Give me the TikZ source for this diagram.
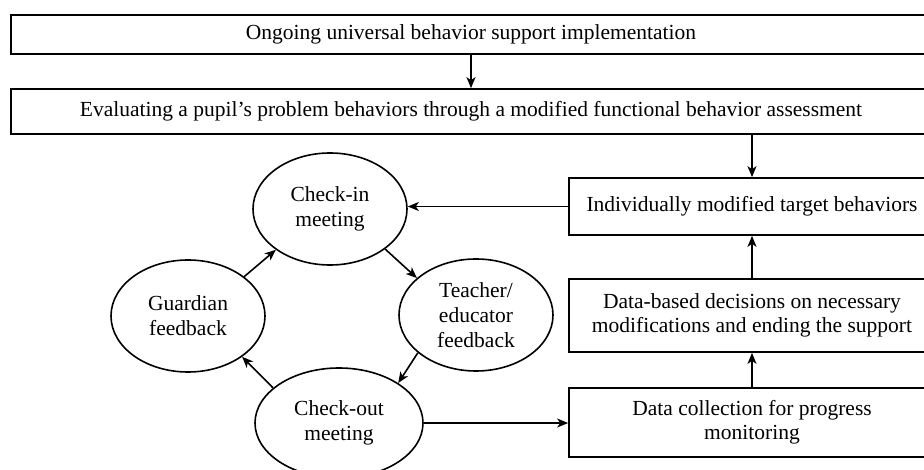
\documentclass[tikz,border=0pt]{standalone}
\usepackage{fontspec}
\setmainfont{Liberation Serif}
\usetikzlibrary{arrows.meta,shapes.geometric}
\begin{document}
\begin{tikzpicture}[x=1pt,y=-1pt,
  txt/.style={font=\fontsize{21.5}{24}\selectfont, align=center, inner sep=0pt},
  box/.style={txt, draw, line width=1.7pt, rectangle},
  oval/.style={txt, font=\fontsize{21.5}{25}\selectfont, draw, line width=1.6pt, ellipse,
    minimum width=154pt, minimum height=112pt},
  link/.style={line width=1.6pt, -{Stealth[length=11pt,width=9pt,inset=3pt]}}]
\useasboundingbox (0,0) rectangle (924,470);

% full-width steps at the top
\node[box, minimum width=920pt, minimum height=39pt] (univ) at (471,34.5)
  {Ongoing universal behavior support implementation};
\node[box, minimum width=920pt, minimum height=45pt] (fba) at (471,111.5)
  {Evaluating a pupil’s problem behaviors through a modified functional behavior assessment};

% right-hand column
\node[box, minimum width=366pt, minimum height=57pt] (target) at (752,206.5)
  {Individually modified target behaviors};
\node[box, minimum width=366pt, minimum height=73pt] (decide) at (752,315.5)
  {Data-based decisions on necessary\\modifications and ending the support};
\node[box, minimum width=366pt, minimum height=69pt] (collect) at (752,422.5)
  {Data collection for progress\\monitoring};

% check-in / check-out cycle
\node[oval] (checkin) at (330,209) {Check-in\\meeting};
\node[oval] (teacher) at (476,315) {Teacher/\\educator\\feedback};
\node[oval] (guardian) at (188,316) {Guardian\\feedback};
\node[oval, minimum width=168pt, minimum height=110pt] (checkout) at (339,423) {Check-out\\meeting};

% connectors
\draw[link] (univ.south) -- (fba.north);
\draw[link] (target.north |- fba.south) -- (target.north);
\draw[link] (target.west) -- (checkin.east |- target.west);
\draw[link] (checkin.-36) -- (teacher.148);
\draw[link] (teacher.213) -- (checkout.34);
\draw[link] (checkout.152) -- (guardian.-37);
\draw[link] (guardian.35) -- (checkin.217);
\draw[link] (checkout.east) -- (collect.west |- checkout.east);
\draw[link] (collect.north) -- (decide.south);
\draw[link] (decide.north) -- (target.south);
\end{tikzpicture}
\end{document}
